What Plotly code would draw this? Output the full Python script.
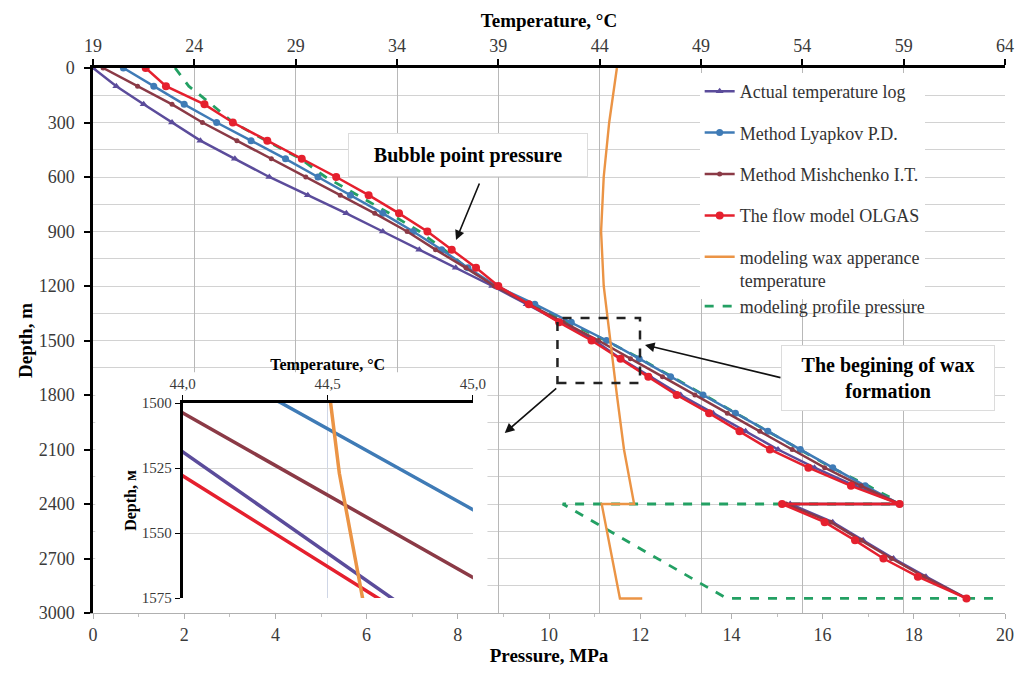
import plotly.graph_objects as go

# ---------------- data ----------------
depth = [0, 100, 200, 300, 400, 500, 600, 700, 800, 900, 1000, 1100, 1200,
         1300, 1400, 1500, 1600, 1700, 1800, 1900, 2000, 2100, 2200, 2300, 2400]
tail_depth = [2400, 2500, 2600, 2700, 2800, 2920]

temp_actual = [19.0, 20.15, 21.5, 22.9, 24.3, 26.0, 27.7, 29.6, 31.5, 33.3, 35.1, 36.9, 38.7,
               40.4, 42.1, 43.76, 45.04, 46.5, 48.0, 49.6, 51.2, 52.8, 54.6, 56.6, 58.8]
temp_actual_tail = [53.4, 55.5, 57.0, 58.5, 60.1, 62.1]

temp_lyapkov = [20.5, 22.0, 23.5, 25.1, 26.8, 28.5, 30.1, 31.7, 33.3, 34.8, 36.2, 37.5, 38.9,
                40.8, 42.6, 44.34, 45.95, 47.5, 49.1, 50.7, 52.3, 53.9, 55.5, 57.1, 58.8]

temp_mishchenko = [19.5, 21.2, 22.9, 24.4, 26.1, 27.8, 29.5, 31.2, 32.9, 34.5, 35.9, 37.4, 38.8,
                   40.5, 42.2, 43.94, 45.52, 47.1, 48.7, 50.3, 51.9, 53.5, 55.1, 56.9, 58.8]
temp_mishchenko_tail = [53.2, 55.4, 56.9, 58.4, 60.0, 62.1]

temp_olgas = [21.6, 22.6, 24.5, 25.9, 27.6, 29.3, 31.0, 32.6, 34.1, 35.5, 36.7, 37.9, 39.0,
              40.5, 42.0, 43.6, 45.03, 46.4, 47.8, 49.4, 50.9, 52.4, 54.3, 56.4, 58.8]
temp_olgas_tail = [53.0, 55.1, 56.6, 58.0, 59.7, 62.1]

wax_depth = [0, 300, 600, 900, 1200, 1500, 1527, 1575, 1800, 2100, 2400, 2400, 2920, 2920]
wax_temp = [44.85, 44.47, 44.2, 44.07, 44.2, 44.51, 44.54, 44.62, 44.85, 45.2, 45.7, 44.1, 45.0, 46.1]

pressure_profile = [1.8, 2.1, 2.6, 3.07, 3.8, 4.55, 5.1, 5.8, 6.5, 7.16, 7.7, 8.2, 8.8,
                    9.6, 10.4, 11.25, 12.0, 12.7, 13.4, 14.1, 14.8, 15.5, 16.2, 17.0, 17.75]
pressure_tail_depth = [2400, 2920, 2920]
pressure_tail = [10.3, 13.9, 19.9]

SERIF = "Liberation Serif"

# paper-coordinate helpers for layout placement (plot area 93..1010 x 68..613 px)
def px(x):
    return (x - 93) / 917.0

def py(y):
    return (613 - y) / 545.0

fig = go.Figure()

series = [
    ("Actual temperature log", temp_actual + temp_actual_tail, depth + tail_depth,
     "#5b4c9b", "triangle-up", 7),
    ("Method Lyapkov P.D.", temp_lyapkov, depth, "#3f7bb6", "circle", 7),
    ("Method Mishchenko I.T.", temp_mishchenko + temp_mishchenko_tail, depth + tail_depth,
     "#8b3a46", "circle", 5),
    ("The flow model OLGAS", temp_olgas + temp_olgas_tail, depth + tail_depth,
     "#e5202e", "circle", 8),
]

for name, t, d, col, sym, ms in series:
    fig.add_trace(go.Scatter(
        x=t, y=d, xaxis="x2", yaxis="y", name=name, legendgroup=name,
        mode="lines+markers", line=dict(color=col, width=2.5),
        marker=dict(symbol=sym, size=ms, color=col)))

fig.add_trace(go.Scatter(
    x=wax_temp, y=wax_depth, xaxis="x2", yaxis="y",
    name="modeling wax apperance<br>temperature", legendgroup="wax",
    mode="lines", line=dict(color="#eb9445", width=2.4)))

fig.add_trace(go.Scatter(
    x=pressure_profile + pressure_tail, y=depth + pressure_tail_depth,
    xaxis="x", yaxis="y", name="modeling profile pressure", legendgroup="pp",
    legend="legend2",
    mode="lines", line=dict(color="#23a063", width=2.8, dash="dash")))

# inset traces (same data, zoomed)
for name, t, d, col, sym, ms in series:
    fig.add_trace(go.Scatter(
        x=t, y=d, xaxis="x3", yaxis="y3", legendgroup=name, showlegend=False,
        mode="lines", line=dict(color=col, width=3.5), hoverinfo="skip"))
fig.add_trace(go.Scatter(
    x=wax_temp, y=wax_depth, xaxis="x3", yaxis="y3", legendgroup="wax", showlegend=False,
    mode="lines", line=dict(color="#eb9445", width=3.5), hoverinfo="skip"))

title_font = dict(family=SERIF, size=19, color="black")
tick_font = dict(family=SERIF, size=18, color="#3a3a3a")
inset_tick_font = dict(family=SERIF, size=15, color="#3a3a3a")
inset_title_font = dict(family=SERIF, size=16, color="black")
legend_font = dict(family=SERIF, size=18, color="#333333")

fig.update_layout(
    width=1030, height=675,
    margin=dict(l=93, r=20, t=68, b=62),
    paper_bgcolor="white", plot_bgcolor="white",
    font=dict(family=SERIF, size=16, color="#333333"),
    xaxis=dict(range=[0, 20], dtick=2, showgrid=False, zeroline=False,
               showline=True, linecolor="#b0b0b0", linewidth=1,
               ticks="outside", ticklen=5, tickcolor="#b0b0b0", tickfont=tick_font,
               minor=dict(dtick=1, ticks="outside", ticklen=3, tickcolor="#c0c0c0"),
               title=dict(text="<b>Pressure, MPa</b>", font=title_font, standoff=4)),
    xaxis2=dict(range=[19, 64], tick0=19, dtick=5, overlaying="x", side="top", anchor="y",
                showgrid=True, gridcolor="#b8b8b8", gridwidth=1, zeroline=False,
                showline=True, linecolor="black", linewidth=2.5,
                ticks="outside", ticklen=6, tickcolor="black", tickwidth=1.5,
                tickfont=tick_font,
                title=dict(text="<b>Temperature, °C</b>", font=title_font, standoff=4)),
    yaxis=dict(range=[3000, 0], dtick=300, showgrid=True, gridcolor="#d2d2d2", zeroline=False,
               minor=dict(dtick=150, showgrid=True, gridcolor="#d2d2d2"),
               showline=True, linecolor="black", linewidth=2.5,
               ticks="outside", ticklen=6, tickcolor="black", tickwidth=1.5,
               tickfont=tick_font, ticklabelstandoff=6,
               title=dict(text="<b>Depth, m</b>", font=title_font, standoff=2)),
    xaxis3=dict(domain=[px(183), px(475)], anchor="y3", side="top", range=[44, 45],
                tickvals=[44, 44.5, 45], ticktext=["44,0", "44,5", "45,0"],
                showgrid=True, gridcolor="#cfd6e6", zeroline=False,
                showline=True, linecolor="black", linewidth=2.5,
                ticks="outside", ticklen=5, tickcolor="black",
                tickfont=inset_tick_font,
                title=dict(text="<b>Temperature, °C</b>", font=inset_title_font, standoff=2)),
    yaxis3=dict(domain=[py(598), py(403)], anchor="x3", range=[1575, 1500],
                tickvals=[1500, 1525, 1550, 1575],
                showgrid=True, gridcolor="#d8d8d8", zeroline=False,
                showline=True, linecolor="black", linewidth=2.5,
                ticks="outside", ticklen=5, tickcolor="black",
                tickfont=inset_tick_font,
                title=dict(text="<b>Depth, м</b>", font=inset_title_font, standoff=2)),
    legend=dict(x=px(703), y=py(73), xanchor="left", yanchor="top",
                bgcolor="white", font=legend_font,
                tracegroupgap=15, valign="top", traceorder="grouped"),
    legend2=dict(x=px(703), y=py(288), xanchor="left", yanchor="top",
                 bgcolor="rgba(0,0,0,0)", font=legend_font),
    showlegend=True,
)

# white panel behind the inset (above main grid, below traces)
fig.add_shape(type="rect", xref="x", yref="y", x0=0.05, x1=8.65, y0=1675, y1=3000,
              fillcolor="white", line=dict(width=0), layer="between")

# dashed frame marking the zoomed area
fig.add_shape(type="rect", xref="paper", yref="paper",
              x0=px(560), x1=px(643), y0=py(383), y1=py(318),
              line=dict(color="#222222", width=2.5, dash="dash"), fillcolor="rgba(0,0,0,0)",
              layer="above")

ann_font = dict(family=SERIF, size=20, color="black")
fig.add_annotation(xref="paper", yref="paper", x=px(470), y=py(155),
                   xanchor="center", yanchor="middle",
                   text="<b>Bubble point pressure</b>", showarrow=False, font=ann_font,
                   bgcolor="white", bordercolor="#dcdcdc", borderwidth=1, width=236, height=40)
fig.add_annotation(xref="paper", yref="paper", x=px(892), y=py(378),
                   xanchor="center", yanchor="middle",
                   text="<b>The begining of wax<br>formation</b>", showarrow=False, font=ann_font,
                   bgcolor="white", bordercolor="#dcdcdc", borderwidth=1, width=210, height=62)

arrow = dict(showarrow=True, arrowhead=2, arrowsize=1.2, arrowwidth=1.6, arrowcolor="#111111",
             text="", xref="paper", yref="paper", axref="pixel", ayref="pixel")
fig.add_annotation(x=px(458), y=py(240), ax=24, ay=-58, **arrow)
fig.add_annotation(x=px(648), y=py(345), ax=137, ay=33, **arrow)
fig.add_annotation(x=px(507), y=py(433), ax=53, ay=-46, **arrow)

fig.write_html("out.html")
